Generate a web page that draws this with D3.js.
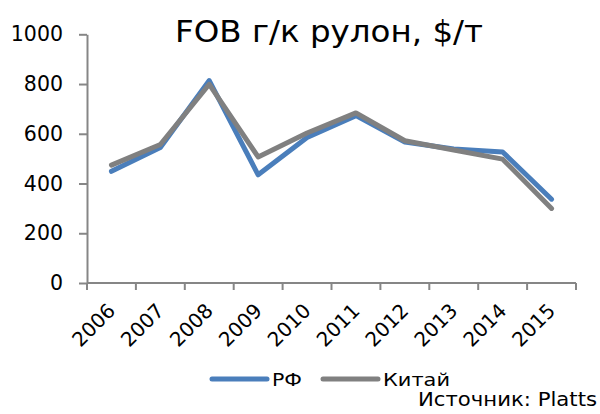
<!DOCTYPE html>
<html lang="ru">
<head>
<meta charset="UTF-8">
<title>FOB г/к рулон</title>
<script src="https://d3js.org/d3.v7.min.js"></script>
<style>
  body { margin: 0; background: #fff; }
  text { font-family: "DejaVu Sans", Verdana, sans-serif; fill: #000; }
  .axis path, .axis line { stroke: #868686; stroke-width: 2px; }
  .line { fill: none; stroke-width: 5px; stroke-linejoin: round; stroke-linecap: round; }
</style>
</head>
<body>
<div id="chart"></div>
<script>
// data
const years = ["2006", "2007", "2008", "2009", "2010", "2011", "2012", "2013", "2014", "2015"];
const rf    = [449, 545, 814, 435, 585, 673, 567, 539, 527, 337];
const china = [474, 557, 799, 507, 603, 684, 572, 535, 498, 300];
const yTicks = [0, 200, 400, 600, 800, 1000];

const seriesNames = ["РФ", "Китай"];
const seriesColors = ["#4A7EBB", "#808080"];

const width = 600, height = 414;
const plotLeft = 87, plotRight = 576, plotTop = 34.3, plotBottom = 283;

const svg = d3.select("#chart").append("svg")
    .attr("width", width)
    .attr("height", height);

const x = d3.scaleBand().domain(years).range([plotLeft, plotRight]);
const y = d3.scaleLinear().domain([0, 1000]).range([plotBottom, plotTop]);

// y axis
const yAxis = svg.append("g")
    .attr("class", "axis")
    .attr("transform", `translate(${plotLeft},0)`)
    .call(d3.axisLeft(y).tickValues(yTicks).tickFormat(d3.format("d"))
      .tickSize(8).tickPadding(16).tickSizeOuter(0));
yAxis.selectAll("text").style("font-size", "20.5px").style("font-family", "'DejaVu Sans', sans-serif");

// x axis, ticks between categories
const xAxis = svg.append("g")
    .attr("class", "axis")
    .attr("transform", `translate(0,${plotBottom})`);
xAxis.append("line")
    .attr("x1", plotLeft).attr("x2", plotRight)
    .attr("y1", 0).attr("y2", 0);
const edges = years.map(d => x(d)).concat([x.range()[1]]);
xAxis.selectAll("line.tick")
    .data(edges)
    .enter().append("line")
    .attr("class", "tick")
    .attr("x1", d => d).attr("x2", d => d)
    .attr("y1", 0).attr("y2", 7);
xAxis.selectAll("text")
    .data(years)
    .enter().append("text")
    .attr("text-anchor", "end")
    .attr("transform", d => `translate(${x(d) + x.bandwidth() / 2 + 5},${29}) rotate(-45)`)
    .style("font-size", "20px")
    .text(d => d);

// lines
const line = d3.line()
    .x((d, i) => x(years[i]) + x.bandwidth() / 2)
    .y(d => y(d));

[rf, china].forEach((s, i) => {
  svg.append("path")
      .datum(s)
      .attr("class", "line")
      .attr("stroke", seriesColors[i])
      .attr("d", line);
});

// title (the original font runs a bit wider)
svg.append("text")
    .attr("x", 175)
    .attr("y", 42)
    .attr("textLength", 308)
    .attr("lengthAdjust", "spacingAndGlyphs")
    .style("font-size", "30px")
    .text("FOB г/к рулон, $/т");

// legend
const legendX = [212, 323];
const legendW = [30, 67];
seriesNames.forEach((name, i) => {
  svg.append("line")
      .attr("x1", legendX[i]).attr("x2", legendX[i] + 55)
      .attr("y1", 379).attr("y2", 379)
      .attr("stroke", seriesColors[i])
      .attr("stroke-width", 5)
      .attr("stroke-linecap", "round");
  svg.append("text")
      .attr("x", legendX[i] + 60)
      .attr("y", 385.5)
      .attr("textLength", legendW[i])
      .attr("lengthAdjust", "spacingAndGlyphs")
      .style("font-size", "18px")
      .text(name);
});

// source
svg.append("text")
    .attr("x", 418)
    .attr("y", 406)
    .attr("textLength", 179)
    .attr("lengthAdjust", "spacingAndGlyphs")
    .style("font-size", "19px")
    .text("Источник: Platts");
</script>
</body>
</html>
